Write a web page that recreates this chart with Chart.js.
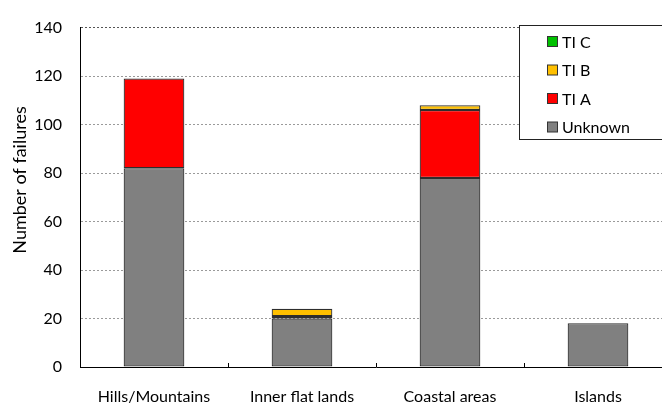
<!DOCTYPE html>
<html>
<head>
<meta charset="utf-8">
<script src="https://cdn.jsdelivr.net/npm/chart.js@4"></script>
<style>
  html, body { margin: 0; padding: 0; background: #fff; overflow: hidden; }
  #wrap { width: 674px; height: 407px; position: relative; }
</style>
</head>
<body>
<div id="wrap"><canvas id="c"></canvas></div>
<script>
// Failure counts by terrain type, split by cause class
const categories = ['Hills/Mountains', 'Inner flat lands', 'Coastal areas', 'Islands'];
const unknown = [82, 20, 78, 18];
const tiA = [37, 1, 28, 0];
const tiB = [0, 3, 2, 0];
const tiC = [0, 0, 0, 0];
const yTicks = [0, 20, 40, 60, 80, 100, 120, 140];
const yTitle = 'Number of failures';

const FONT = 'Lato, "Open Sans", sans-serif';

function series(label, data, color) {
  return {
    label, data,
    backgroundColor: color,
    borderColor: '#2e2e2e',
    // empty segments get no outline
    borderWidth: data.map(v => (v ? 1.2 : 0)),
    borderSkipped: false,
    inflateAmount: 0,
    barPercentage: 0.41,
    categoryPercentage: 1.0
  };
}

// Boxed legend inside the plot, top series listed first
const boxLegend = {
  id: 'boxLegend',
  afterDraw(chart) {
    const ctx = chart.ctx;
    const x0 = 519.5, y0 = 25.5, w = 160, h = 114;
    ctx.save();
    ctx.fillStyle = '#fff';
    ctx.fillRect(x0, y0, w, h);
    ctx.strokeStyle = '#222';
    ctx.lineWidth = 1;
    ctx.strokeRect(x0, y0, w, h);
    const items = chart.data.datasets.slice().reverse();
    const rows = [41.5, 70, 98.5, 127];
    ctx.font = '16px ' + FONT;
    ctx.textBaseline = 'middle';
    items.forEach((ds, i) => {
      const cy = rows[i];
      ctx.fillStyle = ds.backgroundColor;
      ctx.fillRect(547.5, cy - 5, 10, 10);
      ctx.strokeStyle = '#333';
      ctx.strokeRect(547.5, cy - 5, 10, 10);
      ctx.fillStyle = '#000';
      ctx.textAlign = 'left';
      ctx.fillText(ds.label, 562, cy + 1);
    });
    ctx.restore();
  }
};

// Axis title and the small upward ticks between categories
const extras = {
  id: 'extras',
  afterDraw(chart) {
    const ctx = chart.ctx;
    const xs = chart.scales.x, ys = chart.scales.y;
    ctx.save();
    ctx.strokeStyle = '#000';
    ctx.lineWidth = 1;
    for (let i = 1; i < categories.length; i++) {
      const px = Math.round(xs.getPixelForValue(i - 0.5)) + 0.5;
      ctx.beginPath();
      ctx.moveTo(px, ys.bottom);
      ctx.lineTo(px, ys.bottom - 4);
      ctx.stroke();
    }
    ctx.translate(20, 180);
    ctx.rotate(-Math.PI / 2);
    ctx.font = '18px ' + FONT;
    ctx.fillStyle = '#000';
    ctx.textAlign = 'center';
    ctx.textBaseline = 'middle';
    ctx.fillText(yTitle, 0, 0);
    ctx.restore();
  }
};

new Chart(document.getElementById('c'), {
  type: 'bar',
  data: {
    labels: categories,
    datasets: [
      series('Unknown', unknown, '#808080'),
      series('TI A', tiA, '#ff0000'),
      series('TI B', tiB, '#ffc000'),
      series('TI C', tiC, '#00c000')
    ]
  },
  options: {
    responsive: true,
    maintainAspectRatio: false,
    animation: false,
    devicePixelRatio: 1,
    layout: { padding: { left: 0, right: 2, top: 17, bottom: 0 } },
    plugins: { legend: { display: false }, tooltip: { enabled: false } },
    scales: {
      x: {
        stacked: true,
        offset: true,
        grid: { display: false, drawTicks: false },
        border: { display: true, color: '#000', width: 1 },
        ticks: { color: '#000', font: { family: FONT, size: 16 }, padding: 20, maxRotation: 0 },
        afterFit(s) { s.height = 40; }
      },
      y: {
        stacked: true,
        min: 0,
        max: 140,
        afterBuildTicks(s) { s.ticks = yTicks.map(v => ({ value: v })); },
        grid: {
          drawTicks: false,
          color: c => (c.tick.value === 0 ? 'rgba(0,0,0,0)' : (c.tick.value === 140 ? '#555' : '#9a9a9a')),
          lineWidth: 1
        },
        border: { display: true, color: '#000', width: 1, dash: [2, 2] },
        ticks: { color: '#000', font: { family: FONT, size: 16 }, padding: 18 },
        afterFit(s) { s.width = 80; }
      }
    }
  },
  plugins: [extras, boxLegend]
});
</script>
</body>
</html>
